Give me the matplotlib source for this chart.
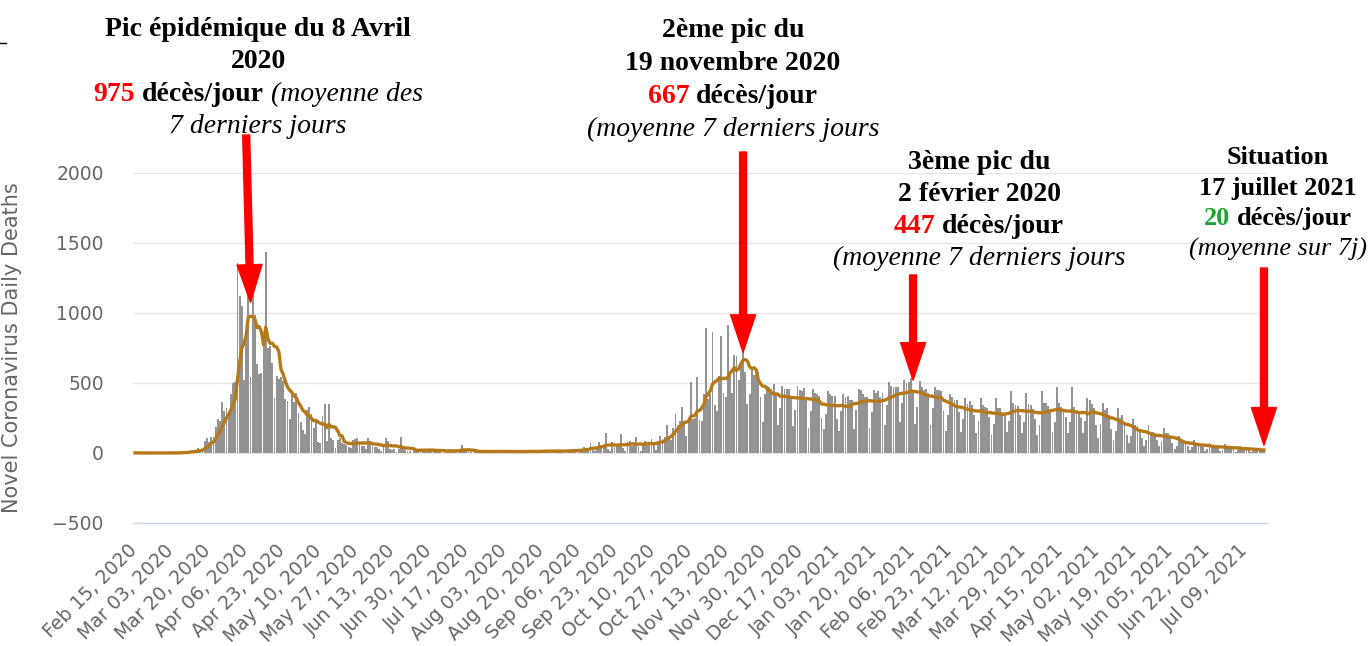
import numpy as np
import pandas as pd
import matplotlib
matplotlib.use("Agg")
import matplotlib.pyplot as plt
from matplotlib.lines import Line2D
from matplotlib.transforms import IdentityTransform, ScaledTranslation

W, H = 1370, 646

start_date = pd.Timestamp("2020-02-15")

# daily deaths, one row per week (Sat .. Fri)
daily_deaths = [
    1, 0, 0, 0, 0, 0, 0,                    # Feb 15 2020
    0, 0, 0, 0, 1, 0, 0,
    0, 0, 1, 1, 0, 2, 2,
    2, 9, 3, 8, 15, 13, 18,                 # Mar 07
    12, 36, 21, 27, 89, 108, 78,
    112, 112, 186, 240, 231, 365, 299,
    319, 292, 418, 499, 509, 1355, 1120,
    1053, 518, 833, 1417, 541, 1341, 987,   # Apr 04
    635, 561, 574, 762, 1438, 753, 761,
    642, 395, 547, 531, 544, 516, 389,
    369, 242, 437, 367, 427, 289, 218,
    166, 135, 306, 330, 278, 178, 243,      # May 02
    80, 70, 263, 348, 83, 351, 104,
    96, 35, 90, 110, 70, 65, 60,
    43, 35, 90, 98, 110, 66, 52,
    52, 31, 107, 83, 81, 44, 46,
    27, 13, 65, 110, 87, 28, 24,            # Jun 06
    29, 9, 29, 111, 28, 24, 14,
    14, 2, 23, 30, 28, 22, 21,
    17, 5, 30, 25, 18, 14, 19,
    14, 3, 23, 14, 21, 18, 10,              # Jul 04
    16, 7, 25, 57, 20, 18, 14,
    7, 3, 15, 14, 11, 14, 10,
    8, 2, 17, 10, 14, 12, 16,
    7, 2, 12, 9, 15, 12, 10,                # Aug 01
    8, 3, 14, 13, 12, 17, 11,
    10, 3, 12, 17, 14, 16, 20,
    9, 3, 17, 15, 16, 18, 16,
    10, 3, 20, 20, 23, 25, 17,
    12, 8, 32, 40, 36, 27, 70,              # Sep 05
    26, 12, 46, 78, 52, 43, 140,
    26, 12, 81, 44, 52, 50, 136,
    38, 12, 81, 85, 52, 54, 115,
    49, 16, 67, 85, 80, 69, 100,            # Oct 03
    54, 22, 85, 120, 100, 115, 200,
    120, 95, 180, 280, 200, 230, 330,
    205, 120, 230, 510, 240, 250, 540,
    236, 230, 420, 890, 385, 420, 866,
    340, 300, 550, 836, 430, 400, 914,      # Nov 07
    560, 430, 700, 690, 520, 650, 1100,
    580, 350, 420, 600, 560, 560, 580,
    400, 220, 420, 480, 470, 460, 490,
    420, 200, 320, 480, 460, 460, 460,      # Dec 05
    400, 190, 310, 479, 450, 440, 461,
    390, 180, 300, 460, 430, 420, 410,
    250, 170, 280, 440, 420, 410, 410,
    240, 160, 300, 420, 400, 410, 380,      # Jan 02 2021
    380, 170, 310, 460, 450, 420, 400,
    400, 180, 290, 450, 430, 440, 400,
    430, 200, 340, 510, 480, 470, 475,
    470, 220, 360, 520, 500, 510, 535,
    440, 210, 330, 515, 470, 450, 455,      # Feb 06
    430, 200, 320, 470, 450, 450, 445,
    300, 160, 270, 420, 400, 380, 380,
    290, 150, 240, 390, 350, 370, 345,
    270, 140, 230, 395, 340, 330, 325,      # Mar 06
    260, 130, 210, 390, 320, 320, 295,
    280, 150, 230, 440, 360, 340, 335,
    270, 140, 220, 430, 350, 340, 315,
    240, 130, 200, 440, 360, 360, 335,      # Apr 03
    290, 150, 220, 470, 360, 330, 315,
    260, 140, 220, 471, 330, 310, 299,
    250, 140, 230, 393, 380, 350, 322,
    200, 110, 210, 360, 310, 320, 275,      # May 01
    170, 90, 160, 320, 250, 270, 210,
    130, 70, 120, 240, 200, 190, 170,
    110, 50, 95, 200, 150, 150, 141,
    90, 50, 80, 180, 140, 140, 125,
    70, 30, 50, 120, 90, 85, 80,            # Jun 05
    50, 20, 40, 95, 70, 65, 66,
    40, 15, 30, 75, 55, 50, 50,
    35, 12, 25, 65, 45, 42, 42,
    28, 10, 20, 50, 35, 34, 33,             # Jul 03
    20, 8, 15, 38, 27, 24, 22,
    18,                                     # Jul 17 2021
]

tick_step = 17
y_ticks = [-500, 0, 500, 1000, 1500, 2000]

# arrows: tip date, tail date, gap above the average line (deaths), tail height (px from top)
arrow_tip_dates = ["2020-04-08", "2020-11-20", "2021-02-06", "2021-07-17"]
arrow_tail_dates = ["2020-04-06", "2020-11-20", "2021-02-06", "2021-07-17"]
arrow_gap = [100, 55, 80, 35]
arrow_tail_px = [135, 152, 275, 268]

# annotation blocks: center x, first baseline y (px from top), leading, size, lines
blocks = [
    (258, 36, 32.3, 20, [
        [("Pic épidémique du 8 Avril", "b")],
        [("2020", "b")],
        [("975", "r"), ("décès/jour", "b"), ("(moyenne des", "i")],
        [("7 derniers jours", "i")],
    ]),
    (733, 37, 33, 20, [
        [("2ème pic du", "b")],
        [("19 novembre 2020", "b")],
        [("667", "r"), ("décès/jour", "b")],
        [("(moyenne 7 derniers jours", "i")],
    ]),
    (979, 169, 32, 20, [
        [("3ème pic du", "b")],
        [("2 février 2020", "b")],
        [("447", "r"), ("décès/jour", "b")],
        [("(moyenne 7 derniers jours", "i")],
    ]),
    (1278, 164, 30.5, 18.9, [
        [("Situation", "b")],
        [("17 juillet 2021", "b")],
        [("20", "g"), ("décès/jour", "b")],
        [("(moyenne sur 7j)", "i")],
    ]),
]

styles = {
    "b": dict(color="black", fontweight="bold", fontstyle="normal"),
    "r": dict(color="#ff0000", fontweight="bold", fontstyle="normal"),
    "g": dict(color="#1fa534", fontweight="bold", fontstyle="normal"),
    "i": dict(color="black", fontweight="normal", fontstyle="italic"),
}

deaths = pd.Series(daily_deaths, dtype=float)
avg7 = deaths.rolling(7, min_periods=1).mean()
days = np.arange(len(deaths))
dates = pd.date_range(start_date, periods=len(deaths), freq="D")


def day_of(d):
    return (pd.Timestamp(d) - start_date).days


fig = plt.figure(figsize=(W / 100, H / 100), dpi=100)
ax = fig.add_axes([133 / W, 123 / H, 1134 / W, 350 / H])

ax.bar(days, deaths, width=0.85, color="#939393", linewidth=0, zorder=2)
ax.plot(days, avg7, color="#b5791a", lw=2.4, zorder=3, solid_joinstyle="round")

ax.set_xlim(-0.92, 519.4)
ax.set_ylim(-500, 2000)

ax.set_yticks(y_ticks)
ax.yaxis.grid(True, color="#e6e6e6", lw=1)
ax.set_axisbelow(True)
ax.tick_params(axis="y", length=0, pad=21, labelsize=13.5, labelcolor="#666666")
ax.set_ylabel("Novel Coronavirus Daily Deaths", fontsize=15, color="#666666")
ax.yaxis.set_label_coords(-0.098, 0.5)

tick_idx = days[::tick_step]
ax.set_xticks(tick_idx)
ax.set_xticklabels([dates[i].strftime("%b %d, %Y") for i in tick_idx],
                   rotation=45, ha="right", va="top", rotation_mode="anchor")
ax.tick_params(axis="x", length=0, pad=13, labelsize=13.6, labelcolor="#666666")
for lbl in ax.get_xticklabels():
    lbl.set_transform(lbl.get_transform() + ScaledTranslation(-0.08, 0, fig.dpi_scale_trans))

for side in ["top", "left", "right"]:
    ax.spines[side].set_visible(False)
ax.spines["bottom"].set_color("#ccd6eb")
ax.spines["bottom"].set_linewidth(1)

# red arrows
for tip, tail, gap, tail_px in zip(arrow_tip_dates, arrow_tail_dates, arrow_gap, arrow_tail_px):
    d = day_of(tip)
    ax.annotate("", xy=(d, avg7[d] + gap), xytext=(day_of(tail), 1 - tail_px / H),
                textcoords=("data", "figure fraction"),
                arrowprops=dict(facecolor="#ff0000", edgecolor="#ff0000", width=5,
                                headwidth=18, headlength=27, shrink=0),
                zorder=5, annotation_clip=False)

# rich text annotations
renderer = fig.canvas.get_renderer()
for xc, y0, lead, size, lines in blocks:
    for i, parts in enumerate(lines):
        y = H - (y0 + i * lead)
        arts = []
        for text, kind in parts:
            arts.append(fig.text(0, y, text, transform=IdentityTransform(), fontsize=size,
                                 family="Liberation Serif", ha="left", va="baseline",
                                 **styles[kind]))
        widths = [a.get_window_extent(renderer).width for a in arts]
        space = 0.25 * size * fig.dpi / 72
        x = xc - (sum(widths) + space * (len(arts) - 1)) / 2
        for a, w in zip(arts, widths):
            a.set_x(x)
            x += w + space

# small dash in the top left corner
fig.add_artist(Line2D([0, 6 / W], [1 - 43 / H] * 2, color="black", lw=1))

fig.savefig("out.png", dpi=100)
